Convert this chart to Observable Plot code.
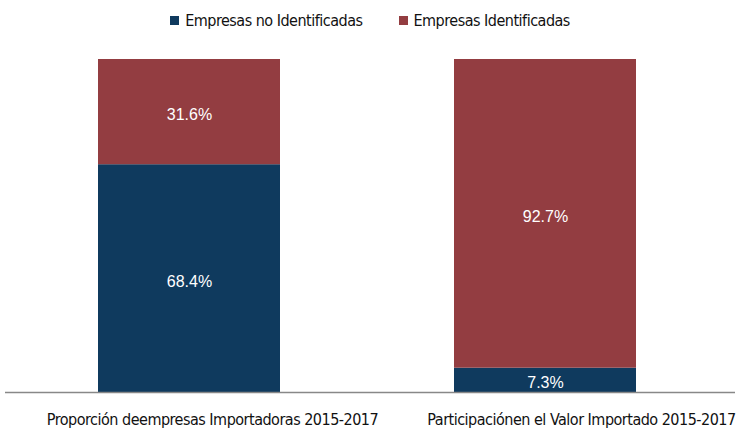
<!DOCTYPE html>
<html><head><meta charset="utf-8">
<script src="https://cdn.jsdelivr.net/npm/d3@7"></script>
<script src="https://cdn.jsdelivr.net/npm/@observablehq/plot@0.6"></script>
<style>
body{margin:0;background:#fff;}
#legend{height:40px;display:flex;justify-content:center;align-items:center;gap:36px;font-family:"Liberation Sans Narrow","DejaVu Sans Condensed",sans-serif;font-size:16px;letter-spacing:-0.5px;color:#111;box-sizing:border-box;}
#legend span.sw{display:inline-block;width:9px;height:9px;margin-right:6px;vertical-align:middle;position:relative;top:-1px;}
</style></head>
<body>
<div id="legend"></div>
<div id="chart"></div>
<script>
const categories = ["Proporción deempresas Importadoras 2015-2017", "Participaciónen el Valor Importado 2015-2017"];
const series = ["Empresas no Identificadas", "Empresas Identificadas"];
const noIdent = [68.4, 7.3];
const ident = [31.6, 92.7];
const colors = ["#0f3a5e", "#933d41"];

const data = [];
categories.forEach((c, i) => {
  data.push({cat: c, serie: series[0], value: noIdent[i]});
  data.push({cat: c, serie: series[1], value: ident[i]});
});

const leg = document.getElementById("legend");
series.forEach((s, i) => {
  const d = document.createElement("div");
  d.innerHTML = `<span class="sw" style="background:${colors[i]}"></span>${s}`;
  leg.appendChild(d);
});

const stackOpts = {x: "cat", y: "value", z: "serie", order: series};
const axisOpts = {tickSize: 0, tickPadding: 21, fontSize: 16, fill: "#111", label: null};
const chart = Plot.plot({
  width: 740,
  height: 389,
  marginLeft: 5,
  marginRight: 5,
  marginTop: 19,
  marginBottom: 37,
  x: {domain: categories, range: [97, 636], paddingInner: 0.49, paddingOuter: 0, label: null, axis: null},
  y: {domain: [0, 100], axis: null},
  color: {domain: series, range: colors},
  style: {fontFamily: "'Liberation Sans Narrow','DejaVu Sans Condensed',sans-serif", overflow: "visible"},
  marks: [
    Plot.barY(data, Plot.stackY({...stackOpts, fill: "serie"})),
    Plot.text(data, Plot.stackY({...stackOpts, text: d => d.value.toFixed(1) + "%", fill: "white", fontSize: 16, dy: 3, fontFamily: "Arial, 'Liberation Sans', sans-serif"})),
    Plot.ruleY([0], {stroke: "#888", strokeWidth: 1.5}),
    Plot.axisX([categories[0]], {...axisOpts, dx: 23}),
    Plot.axisX([categories[1]], {...axisOpts, dx: 36})
  ]
});
chart.querySelectorAll("g[aria-label='x-axis tick label'] text").forEach(t => t.setAttribute("letter-spacing", "-0.5"));
document.getElementById("chart").appendChild(chart);
</script>
</body></html>
